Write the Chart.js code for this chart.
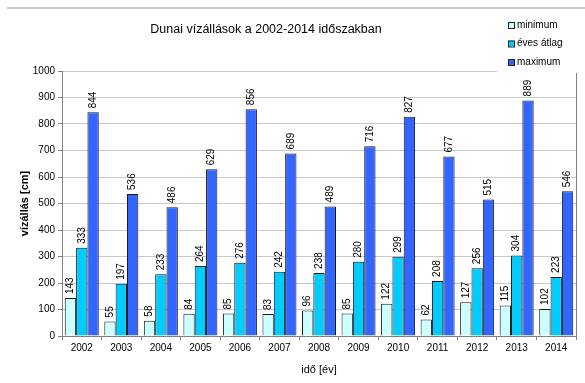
<!DOCTYPE html>
<html>
<head>
<meta charset="utf-8">
<script src="https://cdn.jsdelivr.net/npm/chart.js@4/dist/chart.umd.min.js"></script>
<style>
  html, body { margin: 0; padding: 0; background: #fff; }
  #wrap { width: 585px; height: 383px; }
</style>
</head>
<body>
<div id="wrap"><canvas id="chart"></canvas></div>
<script>
const years = ["2002", "2003", "2004", "2005", "2006", "2007", "2008",
               "2009", "2010", "2011", "2012", "2013", "2014"];
const minimum = [143, 55, 58, 84, 85, 83, 96, 85, 122, 62, 127, 115, 102];
const average = [333, 197, 233, 264, 276, 242, 238, 280, 299, 208, 256, 304, 223];
const maximum = [844, 536, 486, 629, 856, 689, 489, 716, 827, 677, 515, 889, 546];

const FONT = "'Liberation Sans', Arial, sans-serif";

// page furniture: background, top rule, right frame of the plot
const frame = {
  id: "frame",
  beforeDraw(chart) {
    const { ctx } = chart;
    ctx.save();
    ctx.fillStyle = "#fff";
    ctx.fillRect(0, 0, chart.width, chart.height);
    ctx.strokeStyle = "#c8c8c8";
    ctx.lineWidth = 2;
    ctx.beginPath();
    ctx.moveTo(7, 8);
    ctx.lineTo(chart.width, 8);
    ctx.stroke();
    ctx.restore();
  },
  afterDraw(chart) {
    const { ctx, chartArea } = chart;
    ctx.save();
    ctx.strokeStyle = "#808080";
    ctx.lineWidth = 1;
    ctx.beginPath();
    ctx.moveTo(chartArea.right + 0.5, chartArea.top);
    ctx.lineTo(chartArea.right + 0.5, chartArea.bottom);
    ctx.stroke();

    // title
    ctx.fillStyle = "#000";
    ctx.font = "12.5px " + FONT;
    ctx.textAlign = "center";
    ctx.textBaseline = "middle";
    ctx.fillText("Dunai vízállások a 2002-2014 időszakban", 266, 30);

    // legend box in the top-right corner
    ctx.fillStyle = "#fff";
    ctx.fillRect(497, 14, 88, 59);
    ctx.font = "10px " + FONT;
    ctx.textAlign = "left";
    chart.data.datasets.forEach((ds, i) => {
      const y = 25 + i * 18.5;
      ctx.fillStyle = ds.backgroundColor;
      ctx.fillRect(508, y - 3, 6, 6);
      ctx.strokeStyle = "#222";
      ctx.strokeRect(508.5, y - 2.5, 6, 6);
      ctx.fillStyle = "#000";
      ctx.fillText(ds.label, 517, y);
    });
    ctx.restore();
  }
};

// vertical value labels above each bar
const barValues = {
  id: "barValues",
  afterDatasetsDraw(chart) {
    const { ctx } = chart;
    ctx.save();
    ctx.fillStyle = "#000";
    ctx.font = "10px " + FONT;
    ctx.textAlign = "left";
    ctx.textBaseline = "middle";
    chart.data.datasets.forEach((ds, i) => {
      chart.getDatasetMeta(i).data.forEach((bar, j) => {
        ctx.save();
        ctx.translate(bar.x, bar.y - 4);
        ctx.rotate(-Math.PI / 2);
        ctx.fillText(String(ds.data[j]), 0, 0);
        ctx.restore();
      });
    });
    ctx.restore();
  }
};

new Chart(document.getElementById("chart"), {
  type: "bar",
  data: {
    labels: years,
    datasets: [
      { label: "minimum", data: minimum, backgroundColor: "#ccffff" },
      { label: "éves átlag", data: average, backgroundColor: "#00ccff" },
      { label: "maximum", data: maximum, backgroundColor: "#3366ff" }
    ]
  },
  options: {
    responsive: true,
    maintainAspectRatio: false,
    animation: false,
    datasets: {
      bar: {
        borderColor: "#1a1a1a",
        borderWidth: 1,
        categoryPercentage: 0.86,
        barPercentage: 1.0
      }
    },
    layout: { padding: { left: 0, right: 9, top: 71, bottom: 0 } },
    plugins: {
      legend: { display: false },
      title: { display: false },
      tooltip: { enabled: false }
    },
    scales: {
      x: {
        afterFit(scale) { scale.height = 47; },
        grid: {
          drawOnChartArea: false,
          drawTicks: true,
          tickLength: 4,
          color: "#808080"
        },
        border: { color: "#808080" },
        ticks: {
          color: "#000",
          padding: 2,
          maxRotation: 0,
          font: { family: FONT, size: 10 }
        },
        title: {
          display: true,
          text: "idő [év]",
          color: "#000",
          padding: { top: 0, bottom: 6 },
          font: { family: FONT, size: 11 }
        }
      },
      y: {
        min: 0,
        max: 1000,
        afterFit(scale) { scale.width = 62; },
        grid: {
          color: "#c8c8c8",
          tickColor: "#808080",
          tickLength: 4
        },
        border: { color: "#808080" },
        ticks: {
          stepSize: 100,
          color: "#000",
          padding: 3,
          font: { family: FONT, size: 10 },
          callback: (v) => String(v)
        },
        title: {
          display: true,
          text: "vízállás [cm]",
          color: "#000",
          padding: { top: 18, bottom: 0 },
          font: { family: FONT, size: 11, weight: "bold" }
        }
      }
    }
  },
  plugins: [frame, barValues]
});
</script>
</body>
</html>
